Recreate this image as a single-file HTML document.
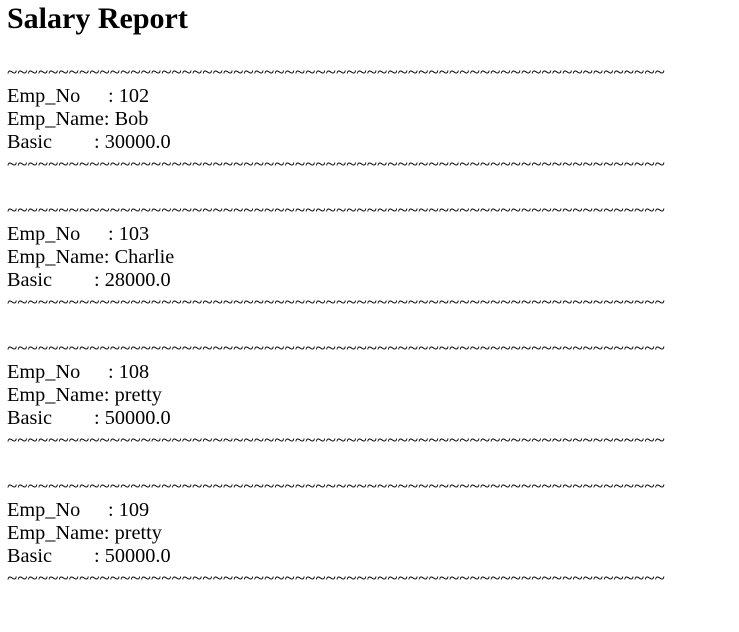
<!DOCTYPE html>
<html><head><meta charset="utf-8"><style>
body{margin:0;background:#fff;width:739px;height:632px;overflow:hidden;font-family:"Liberation Serif",serif;color:#000;position:relative}
h1{position:absolute;left:7px;top:1px;margin:0;font-family:"Liberation Serif",serif;font-size:30px;font-weight:bold;line-height:36px}
.rep{position:absolute;left:7px;top:62px;font-size:20.3px;line-height:23px}
.t{width:661px;overflow:hidden;white-space:nowrap;height:23px;font-size:19px;line-height:21px}
.l{white-space:pre;height:23px}
.b{height:23px}
.c1{display:inline-block;width:101px}
.c2{display:inline-block;width:87px}
</style></head><body>
<h1>Salary Report</h1>
<div class="rep" id="rep"></div>
<script>
const empNos=["102","103","108","109"];
const empNames=["Bob","Charlie","pretty","pretty"];
const basics=["30000.0","28000.0","50000.0","50000.0"];
const rep=document.getElementById('rep');
const tl="~".repeat(64);
empNos.forEach((no,i)=>{
  const blk=document.createElement('div');
  
  
  blk.innerHTML='<div class="t">'+tl+'</div>'+
   '<div class="l"><span class="c1">Emp_No</span>: '+no+'</div>'+
   '<div class="l">Emp_Name: '+empNames[i]+'</div>'+
   '<div class="l"><span class="c2">Basic</span>: '+basics[i]+'</div>'+
   '<div class="t">'+tl+'</div><div class="b"></div>';
  rep.appendChild(blk);
});
</script>
</body></html>
